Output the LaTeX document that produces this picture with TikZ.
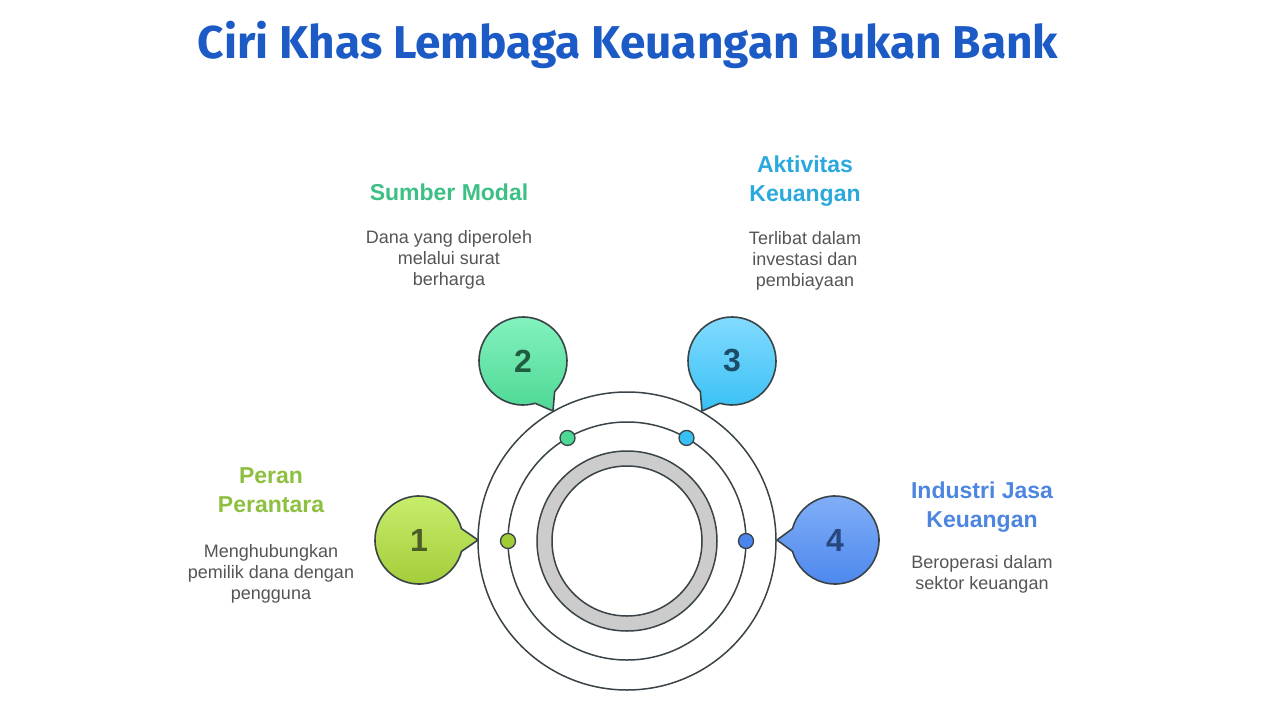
\documentclass[tikz,border=0pt]{standalone}
\usepackage{fontspec}
\setmainfont{Liberation Sans}
\newfontfamily\titlefont{Fira Sans}
\usetikzlibrary{calc}
\definecolor{titleblue}{HTML}{1C5BC6}
\definecolor{outl}{HTML}{3A4448}
\definecolor{bodytxt}{HTML}{555555}
\definecolor{ringgray}{HTML}{CCCCCC}
\definecolor{gAtop}{HTML}{C9EF6E}\definecolor{gAbot}{HTML}{A2CB38}\definecolor{nA}{HTML}{4B5E25}\definecolor{hA}{HTML}{8DC03F}
\definecolor{gBtop}{HTML}{86F3C0}\definecolor{gBbot}{HTML}{4ED895}\definecolor{nB}{HTML}{1F5C40}\definecolor{hB}{HTML}{3CC084}
\definecolor{gCtop}{HTML}{86DCFF}\definecolor{gCbot}{HTML}{38C0F4}\definecolor{nC}{HTML}{1C4C68}\definecolor{hC}{HTML}{2BA9DC}
\definecolor{gDtop}{HTML}{84B0F7}\definecolor{gDbot}{HTML}{4A86EE}\definecolor{nD}{HTML}{27477E}\definecolor{hD}{HTML}{4C86DF}
\tikzset{
  ring/.style={draw=outl, line width=1.5pt},
  bubble/.style={draw=outl, line width=1.6pt, line join=round},
  dot/.style={draw=outl, line width=1.3pt, circle, minimum size=15pt, inner sep=0pt},
  numtxt/.style={font=\bfseries\fontsize{32}{36}\selectfont},
  headtxt/.style={font=\bfseries\fontsize{23}{29.5}\selectfont, align=center, inner sep=0pt},
  bodytext/.style={font=\fontsize{18}{21}\selectfont, align=center, text=bodytxt, inner sep=0pt},
}
\newcommand{\bubbleshape}[5]{% center, tip, angle, topcolor, bottomcolor
  \draw[bubble, top color=#4, bottom color=#5]
    ($(#1)+(#3+15:44pt)$) -- (#2) -- ($(#1)+(#3-15:44pt)$)
    arc[start angle=#3-15, end angle=#3-345, radius=44pt] -- cycle;
}
\begin{document}
\begin{tikzpicture}[x=1pt,y=-1pt]
\useasboundingbox[fill=white] (0,0) rectangle (1280,720);

\node[font=\titlefont\bfseries\fontsize{46}{52}\selectfont, text=titleblue] (title) at (628,45) {Ciri Khas Lembaga Keuangan Bukan Bank};

% central rings
\coordinate (c) at (627,541);
\draw[ring] (c) circle[radius=149pt];
\draw[ring] (c) circle[radius=119pt];
\draw[ring, fill=ringgray, even odd rule] (c) circle[radius=90pt] (c) circle[radius=75pt];

% dots on the middle ring
\node[dot, fill=gAbot] (d1) at ($(c)+(180:119pt)$) {};
\node[dot, fill=gBbot] (d2) at ($(c)+(120:119pt)$) {};
\node[dot, fill=gCbot] (d3) at ($(c)+(60:119pt)$) {};
\node[dot, fill=gDbot] (d4) at ($(c)+(0:119pt)$) {};

% bubbles
\coordinate (b1) at (419,540); \coordinate (t1) at (478,540);
\coordinate (b2) at (523,361); \coordinate (t2) at (553,411);
\coordinate (b3) at (732,361); \coordinate (t3) at (702,411);
\coordinate (b4) at (835,540); \coordinate (t4) at (777,540);
\bubbleshape{b1}{t1}{0}{gAtop}{gAbot}
\bubbleshape{b2}{t2}{-59}{gBtop}{gBbot}
\bubbleshape{b3}{t3}{-121}{gCtop}{gCbot}
\bubbleshape{b4}{t4}{180}{gDtop}{gDbot}
\node[numtxt, text=nA] (n1) at (b1) {1};
\node[numtxt, text=nB] (n2) at (b2) {2};
\node[numtxt, text=nC] (n3) at (b3) {3};
\node[numtxt, text=nD] (n4) at (b4) {4};

% labels
\node[headtxt, text=hA] (h1) at (271,490) {Peran\\Perantara};
\node[bodytext] (s1) at (271,574) {Menghubungkan\\pemilik dana dengan\\pengguna};
\node[headtxt, text=hB] (h2) at (449,192) {Sumber Modal};
\node[bodytext] (s2) at (449,260) {Dana yang diperoleh\\melalui surat\\berharga};
\node[headtxt, text=hC] (h3) at (805,181) {Aktivitas\\Keuangan};
\node[bodytext] (s3) at (805,261) {Terlibat dalam\\investasi dan\\pembiayaan};
\node[headtxt, text=hD] (h4) at (982,507) {Industri Jasa\\Keuangan};
\node[bodytext] (s4) at (982,574) {Beroperasi dalam\\sektor keuangan};
\end{tikzpicture}
\end{document}
